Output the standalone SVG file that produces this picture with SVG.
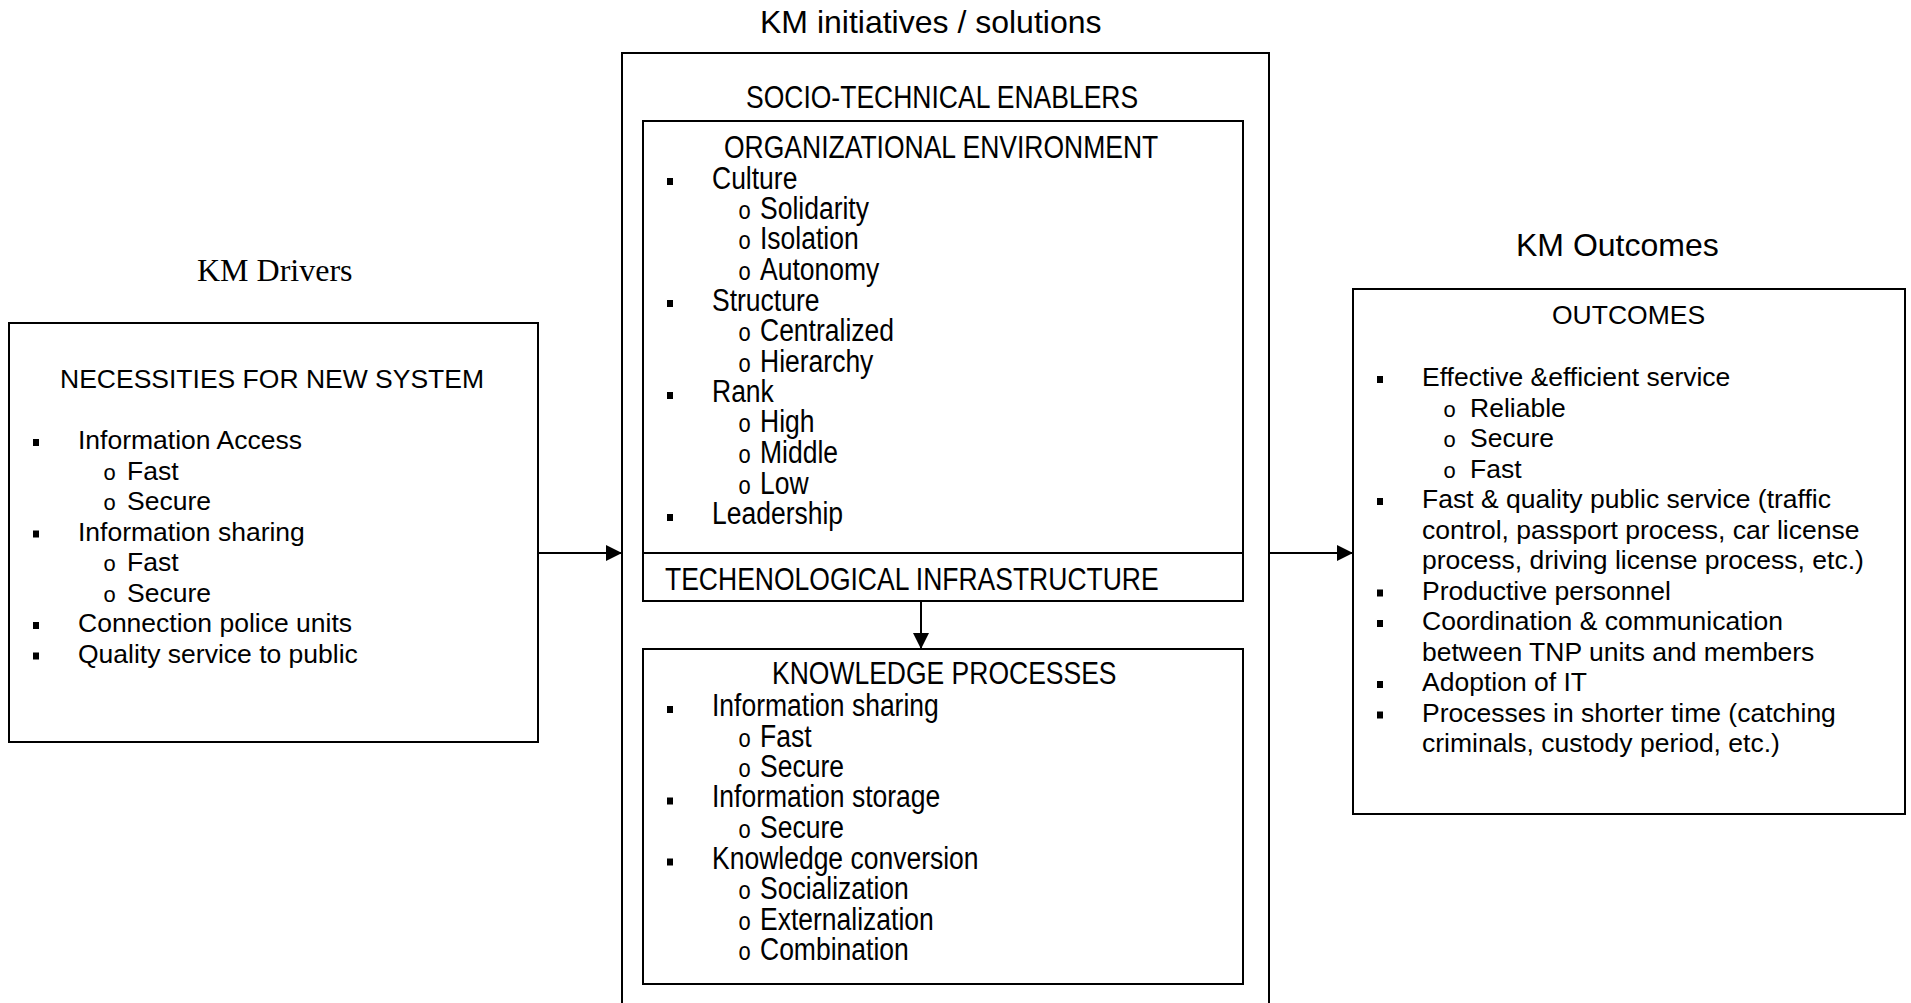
<svg xmlns="http://www.w3.org/2000/svg" width="1911" height="1003" viewBox="0 0 1911 1003">
  <style>
    .box { fill: none; stroke: #000; stroke-width: 2; }
    .t { font-family: "Liberation Sans", Arial, sans-serif; font-size: 26.5px; fill: #000; }
    .title { font-family: "Liberation Sans", Arial, sans-serif; font-size: 32px; fill: #000; }
    .serif { font-family: "Liberation Serif", "Times New Roman", serif; font-size: 32px; fill: #000; }
    .o { font-family: "Liberation Mono", "Courier New", monospace; font-size: 22px; }
    .link { stroke: #000; stroke-width: 2; fill: none; }
  </style>
  <defs>
    <marker id="arrow" markerUnits="userSpaceOnUse" markerWidth="17" markerHeight="17" refX="16" refY="8" orient="auto">
      <path d="M0,0 L16,8 L0,16 Z" fill="#000"/>
    </marker>
  </defs>
  <rect width="1911" height="1003" fill="#fff"/>

  <!-- Left: drivers -->
  <g id="drivers">
    <text class="serif" x="197" y="281">KM Drivers</text>
    <rect class="box" x="9" y="323" width="529" height="419"/>
    <text class="t" x="60" y="388">NECESSITIES FOR NEW SYSTEM</text>
    <rect x="33" y="439" width="6" height="7"/>
    <text class="t" x="78" y="449">Information Access</text>
    <text class="t" y="479.5"><tspan class="o" x="103">o</tspan><tspan x="127">Fast</tspan></text>
    <text class="t" y="510"><tspan class="o" x="103">o</tspan><tspan x="127">Secure</tspan></text>
    <rect x="33" y="530.5" width="6" height="7"/>
    <text class="t" x="78" y="540.5">Information sharing</text>
    <text class="t" y="571"><tspan class="o" x="103">o</tspan><tspan x="127">Fast</tspan></text>
    <text class="t" y="601.5"><tspan class="o" x="103">o</tspan><tspan x="127">Secure</tspan></text>
    <rect x="33" y="622" width="6" height="7"/>
    <text class="t" x="78" y="632">Connection police units</text>
    <rect x="33" y="652.5" width="6" height="7"/>
    <text class="t" x="78" y="662.5">Quality service to public</text>
  </g>

  <!-- Centre: initiatives / solutions -->
  <g id="initiatives">
    <text class="title" x="760" y="33">KM initiatives / solutions</text>
    <rect class="box" x="622" y="53" width="647" height="1000"/>
    <g transform="scale(1 1.2)">
      <text class="t" x="746" y="90">SOCIO-TECHNICAL ENABLERS</text>
    </g>
  </g>

  <g id="org-environment">
    <rect class="box" x="643" y="121" width="600" height="480"/>
    <line class="box" x1="643" y1="553" x2="1243" y2="553"/>
    <rect x="667" y="178" width="6" height="7"/>
    <rect x="667" y="300" width="6" height="7"/>
    <rect x="667" y="392" width="6" height="7"/>
    <rect x="667" y="514" width="6" height="7"/>
    <g transform="scale(1 1.2)">
      <text class="t" x="724" y="131.7">ORGANIZATIONAL ENVIRONMENT</text>
      <text class="t" x="712" y="157.1">Culture</text>
      <text class="t" y="182.5"><tspan class="o" x="738">o</tspan><tspan x="760">Solidarity</tspan></text>
      <text class="t" y="207.9"><tspan class="o" x="738">o</tspan><tspan x="760">Isolation</tspan></text>
      <text class="t" y="233.3"><tspan class="o" x="738">o</tspan><tspan x="760">Autonomy</tspan></text>
      <text class="t" x="712" y="258.8">Structure</text>
      <text class="t" y="284.2"><tspan class="o" x="738">o</tspan><tspan x="760">Centralized</tspan></text>
      <text class="t" y="309.6"><tspan class="o" x="738">o</tspan><tspan x="760">Hierarchy</tspan></text>
      <text class="t" x="712" y="335">Rank</text>
      <text class="t" y="360.4"><tspan class="o" x="738">o</tspan><tspan x="760">High</tspan></text>
      <text class="t" y="385.8"><tspan class="o" x="738">o</tspan><tspan x="760">Middle</tspan></text>
      <text class="t" y="411.3"><tspan class="o" x="738">o</tspan><tspan x="760">Low</tspan></text>
      <text class="t" x="712" y="436.7">Leadership</text>
      <text class="t" x="665" y="491.3">TECHENOLOGICAL INFRASTRUCTURE</text>
    </g>
  </g>

  <g id="knowledge-processes">
    <rect class="box" x="643" y="649" width="600" height="335"/>
    <rect x="667" y="706" width="6" height="7"/>
    <rect x="667" y="797.5" width="6" height="7"/>
    <rect x="667" y="858.5" width="6" height="7"/>
    <g transform="scale(1 1.2)">
      <text class="t" x="772" y="570.4">KNOWLEDGE PROCESSES</text>
      <text class="t" x="712" y="596.7">Information sharing</text>
      <text class="t" y="622.1"><tspan class="o" x="738">o</tspan><tspan x="760">Fast</tspan></text>
      <text class="t" y="647.5"><tspan class="o" x="738">o</tspan><tspan x="760">Secure</tspan></text>
      <text class="t" x="712" y="672.9">Information storage</text>
      <text class="t" y="698.3"><tspan class="o" x="738">o</tspan><tspan x="760">Secure</tspan></text>
      <text class="t" x="712" y="723.8">Knowledge conversion</text>
      <text class="t" y="749.2"><tspan class="o" x="738">o</tspan><tspan x="760">Socialization</tspan></text>
      <text class="t" y="774.6"><tspan class="o" x="738">o</tspan><tspan x="760">Externalization</tspan></text>
      <text class="t" y="800"><tspan class="o" x="738">o</tspan><tspan x="760">Combination</tspan></text>
    </g>
  </g>

  <!-- Right: outcomes -->
  <g id="outcomes">
    <text class="title" x="1516" y="256">KM Outcomes</text>
    <rect class="box" x="1353" y="289" width="552" height="525"/>
    <text class="t" x="1552" y="324">OUTCOMES</text>
    <rect x="1377" y="376" width="6" height="7"/>
    <text class="t" x="1422" y="386">Effective &amp;efficient service</text>
    <text class="t" y="416.5"><tspan class="o" x="1443">o</tspan><tspan x="1470">Reliable</tspan></text>
    <text class="t" y="447"><tspan class="o" x="1443">o</tspan><tspan x="1470">Secure</tspan></text>
    <text class="t" y="477.5"><tspan class="o" x="1443">o</tspan><tspan x="1470">Fast</tspan></text>
    <rect x="1377" y="498" width="6" height="7"/>
    <text class="t" x="1422" y="508">Fast &amp; quality public service (traffic</text>
    <text class="t" x="1422" y="538.5">control, passport process, car license</text>
    <text class="t" x="1422" y="569">process, driving license process, etc.)</text>
    <rect x="1377" y="589.5" width="6" height="7"/>
    <text class="t" x="1422" y="599.5">Productive personnel</text>
    <rect x="1377" y="620" width="6" height="7"/>
    <text class="t" x="1422" y="630">Coordination &amp; communication</text>
    <text class="t" x="1422" y="660.5">between TNP units and members</text>
    <rect x="1377" y="681" width="6" height="7"/>
    <text class="t" x="1422" y="691">Adoption of IT</text>
    <rect x="1377" y="711.5" width="6" height="7"/>
    <text class="t" x="1422" y="721.5">Processes in shorter time (catching</text>
    <text class="t" x="1422" y="752">criminals, custody period, etc.)</text>
  </g>

  <!-- Connectors -->
  <g id="connectors">
    <line class="link" x1="538" y1="553" x2="622" y2="553" marker-end="url(#arrow)"/>
    <line class="link" x1="1269" y1="553" x2="1353" y2="553" marker-end="url(#arrow)"/>
    <line class="link" x1="921" y1="601" x2="921" y2="649" marker-end="url(#arrow)"/>
  </g>
</svg>
